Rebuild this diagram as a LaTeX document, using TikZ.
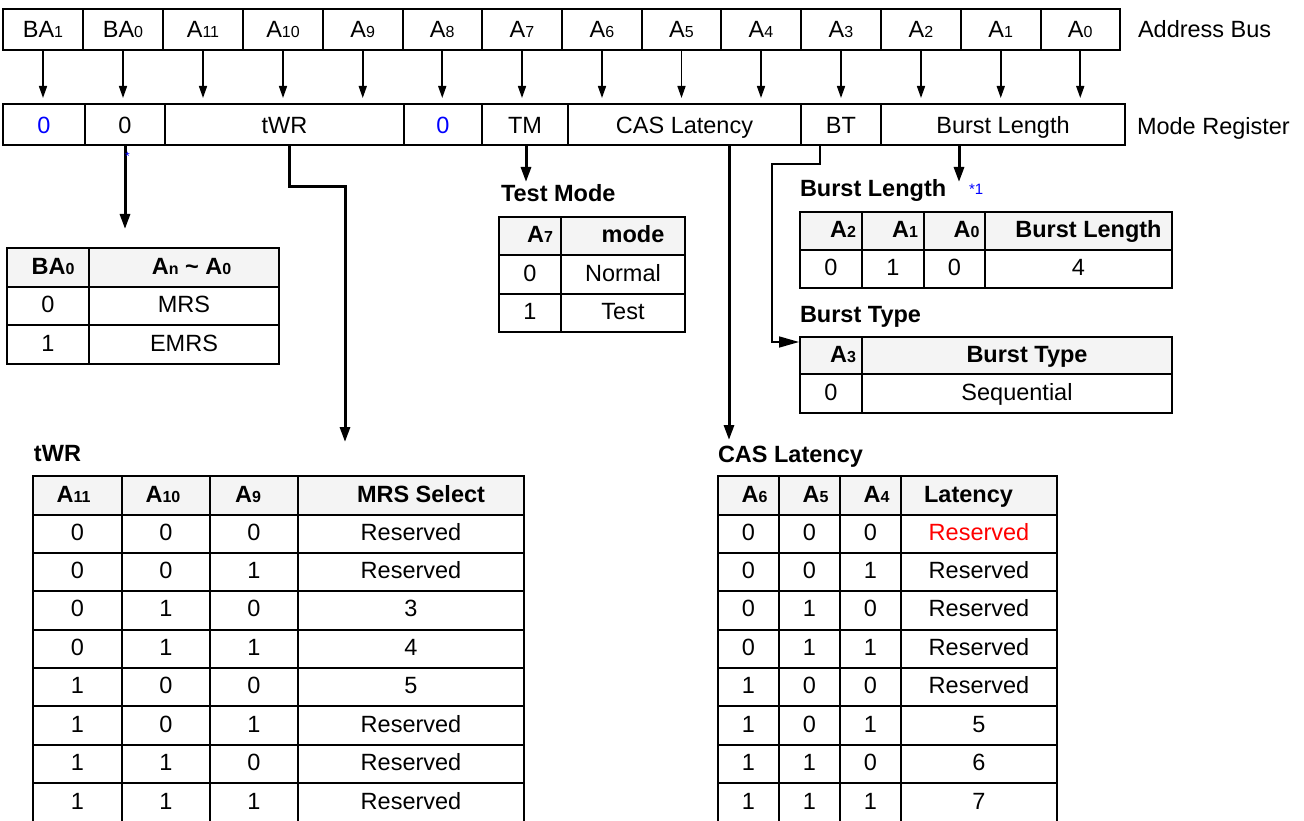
\documentclass[tikz,border=0pt]{standalone}
\usepackage{fontspec}
\setmainfont{Liberation Sans}
\usetikzlibrary{arrows.meta}
\definecolor{hdr}{HTML}{F4F4F4}
\definecolor{bblue}{RGB}{0,0,255}
\definecolor{rred}{RGB}{255,0,0}
\newcommand{\lowsub}[1]{{\fontsize{16}{16}\selectfont #1}}
\newcommand{\mkcell}[7][]{%
  \pgfmathsetmacro{\mkcx}{(#3+#5)/2}%
  \pgfmathsetmacro{\mkcy}{(#4+#6)/2}%
  \pgfmathsetmacro{\mkcw}{#5-#3}%
  \pgfmathsetmacro{\mkch}{#6-#4}%
  \node[cellbox,minimum width=\mkcw pt,minimum height=\mkch pt,#1] (#2) at (\mkcx,\mkcy) {#7};}
\tikzset{
  basetxt/.style={font=\fontsize{23.5}{28}\selectfont, inner sep=0pt, outer sep=0pt},
  cellbox/.style={basetxt, draw, line width=2pt, text height=17pt, text depth=4pt},
  hdrcell/.style={fill=hdr, text depth=3pt, font=\bfseries\fontsize{23.5}{28}\selectfont},
  buscell/.style={line width=2pt, text height=18pt, text depth=2pt},
  modecell/.style={line width=2pt, text height=19pt, text depth=0pt},
  lbltxt/.style={basetxt, anchor=base west},
  blbltxt/.style={lbltxt, font=\bfseries\fontsize{23.5}{28}\selectfont},
  busarrow/.style={line width=1.6pt, -{Triangle[length=12pt,width=8pt]}},
  conn/.style={line width=3pt, -{Triangle[length=15pt,width=10pt]}},
  thinconn/.style={line width=1.6pt, -{Triangle[length=20pt,width=11pt]}},
}
\begin{document}
\begin{tikzpicture}[x=1pt,y=-1pt]
\useasboundingbox (0,0) rectangle (1304,821);
\fill[white] (0,0) rectangle (1304,821);
\clip (0,0) rectangle (1304,821);

% ---------- Address bus ----------
\foreach \i/\xa/\xb/\t in {
  0/3/83/{BA\lowsub{1}}, 1/83/163/{BA\lowsub{0}}, 2/163/243/{A\lowsub{11}},
  3/243/323/{A\lowsub{10}}, 4/323/402.5/{A\lowsub{9}}, 5/402.5/482/{A\lowsub{8}},
  6/482/562/{A\lowsub{7}}, 7/562/642/{A\lowsub{6}}, 8/642/721/{A\lowsub{5}},
  9/721/801/{A\lowsub{4}}, 10/801/881/{A\lowsub{3}}, 11/881/961/{A\lowsub{2}},
  12/961/1040.5/{A\lowsub{1}}, 13/1040.5/1120/{A\lowsub{0}}}{
  \mkcell[buscell]{a\i}{\xa}{9}{\xb}{50}{\t}
}
\node[lbltxt] (labus) at (1138,38) {Address Bus};

% ---------- Mode register ----------
\mkcell[modecell]{m0}{3}{104}{85}{145}{\textcolor{bblue}{0}}
\mkcell[modecell]{mba0}{85}{104}{165}{145}{0}
\mkcell[modecell]{mtwr}{165}{104}{404}{145}{tWR}
\mkcell[modecell]{m8}{404}{104}{482}{145}{\textcolor{bblue}{0}}
\mkcell[modecell]{mtm}{482}{104}{568}{145}{TM}
\mkcell[modecell]{mcas}{568}{104}{801}{145}{CAS Latency}
\mkcell[modecell]{mbt}{801}{104}{881}{145}{BT}
\mkcell[modecell]{mbl}{881}{104}{1125}{145}{Burst Length}
\node[lbltxt] (lmreg) at (1137,135) {Mode Register};

% bus arrows
\coordinate (mtop) at (0,98);
\foreach \i in {0,...,13}{
  \draw[busarrow] (a\i.south) -- (a\i.south |- mtop);
}

% ---------- BA0 table ----------
\mkcell[hdrcell]{bah1}{7}{248}{89}{287}{\hspace*{10pt}BA\lowsub{0}}
\mkcell[hdrcell]{bah2}{89}{248}{279}{287}{\hspace*{15pt}A\lowsub{n} \textasciitilde{} A\lowsub{0}}
\mkcell{ba1a}{7}{287}{89}{325}{0}
\mkcell{ba1b}{89}{287}{279}{325}{MRS}
\mkcell{ba2a}{7}{325}{89}{364}{1}
\mkcell{ba2b}{89}{325}{279}{364}{EMRS}

% ---------- Test mode ----------
\node[blbltxt] (ltm) at (501,202) {Test Mode};
\mkcell[hdrcell]{tmh1}{499}{217}{561}{255}{\hspace*{20pt}A\lowsub{7}}
\mkcell[hdrcell]{tmh2}{561}{217}{685}{255}{\hspace*{20pt}mode}
\mkcell{tm1a}{499}{255}{561}{294}{0}
\mkcell{tm1b}{561}{255}{685}{294}{Normal}
\mkcell{tm2a}{499}{294}{561}{332}{1}
\mkcell{tm2b}{561}{294}{685}{332}{Test}

% ---------- Burst length ----------
\node[blbltxt] (lblen) at (800,197) {Burst Length};
\node[lbltxt, text=bblue, font=\fontsize{15}{15}\selectfont] (note1) at (969,195) {*1};
\mkcell[hdrcell]{blh1}{800}{212}{862}{250}{\hspace*{24pt}A\lowsub{2}}
\mkcell[hdrcell]{blh2}{862}{212}{924}{250}{\hspace*{24pt}A\lowsub{1}}
\mkcell[hdrcell]{blh3}{924}{212}{985}{250}{\hspace*{24pt}A\lowsub{0}}
\mkcell[hdrcell]{blh4}{985}{212}{1172}{250}{\hspace*{20pt}Burst Length}
\mkcell{bl1a}{800}{250}{862}{288}{0}
\mkcell{bl1b}{862}{250}{924}{288}{1}
\mkcell{bl1c}{924}{250}{985}{288}{0}
\mkcell{bl1d}{985}{250}{1172}{288}{4}

% ---------- Burst type ----------
\node[blbltxt] (lbtype) at (800,322) {Burst Type};
\mkcell[hdrcell]{bth1}{800}{337}{862}{374}{\hspace*{24pt}A\lowsub{3}}
\mkcell[hdrcell]{bth2}{862}{337}{1172}{374}{\hspace*{20pt}Burst Type}
\mkcell{bt1a}{800}{374}{862}{413}{0}
\mkcell{bt1b}{862}{374}{1172}{413}{Sequential}

% ---------- tWR table ----------
\node[blbltxt] (ltwr) at (34,461) {tWR};
\mkcell[hdrcell]{twh1}{33}{476}{122}{514.5}{A\lowsub{11}\hspace*{8pt}}
\mkcell[hdrcell]{twh2}{122}{476}{210}{514.5}{A\lowsub{10}\hspace*{6pt}}
\mkcell[hdrcell]{twh3}{210}{476}{298}{514.5}{A\lowsub{9}\hspace*{12pt}}
\mkcell[hdrcell]{twh4}{298}{476}{524}{514.5}{\hspace*{20pt}MRS Select}
\foreach \r/\ya/\yb/\p/\q/\s/\v in {
  1/514.5/553/0/0/0/Reserved,
  2/553/591.3/0/0/1/Reserved,
  3/591.3/629.6/0/1/0/3,
  4/629.6/668/0/1/1/4,
  5/668/706.3/1/0/0/5,
  6/706.3/744.7/1/0/1/Reserved,
  7/744.7/783/1/1/0/Reserved,
  8/783/823/1/1/1/Reserved}{
  \mkcell{tw\r a}{33}{\ya}{122}{\yb}{\p}
  \mkcell{tw\r b}{122}{\ya}{210}{\yb}{\q}
  \mkcell{tw\r c}{210}{\ya}{298}{\yb}{\s}
  \mkcell{tw\r d}{298}{\ya}{524}{\yb}{\v}
}

% ---------- CAS latency table ----------
\node[blbltxt] (lcas) at (718,462) {CAS Latency};
\mkcell[hdrcell]{cah1}{718}{476}{779}{514.5}{\hspace*{12pt}A\lowsub{6}}
\mkcell[hdrcell]{cah2}{779}{476}{840}{514.5}{\hspace*{12pt}A\lowsub{5}}
\mkcell[hdrcell]{cah3}{840}{476}{901}{514.5}{\hspace*{12pt}A\lowsub{4}}
\mkcell[hdrcell]{cah4}{901}{476}{1057}{514.5}{Latency\hspace*{21pt}}
\foreach \r/\ya/\yb/\p/\q/\s/\v in {
  1/514.5/553/0/0/0/{\color{rred}Reserved},
  2/553/591.3/0/0/1/Reserved,
  3/591.3/629.6/0/1/0/Reserved,
  4/629.6/668/0/1/1/Reserved,
  5/668/706.3/1/0/0/Reserved,
  6/706.3/744.7/1/0/1/5,
  7/744.7/783/1/1/0/6,
  8/783/823/1/1/1/7}{
  \mkcell{ca\r a}{718}{\ya}{779}{\yb}{\p}
  \mkcell{ca\r b}{779}{\ya}{840}{\yb}{\q}
  \mkcell{ca\r c}{840}{\ya}{901}{\yb}{\s}
  \mkcell{ca\r d}{901}{\ya}{1057}{\yb}{\v}
}

% ---------- connectors ----------
\coordinate (ba0tip) at (124,229);
\draw[conn] (mba0.south) -- (mba0.south |- ba0tip);
\node[basetxt, text=bblue, font=\fontsize{12}{12}\selectfont, anchor=base] (star) at (127.5,161) {*};
\coordinate (twrbend) at (289,187);
\coordinate (twrtip) at (345,442);
\draw[conn] (mtwr.south -| twrbend) -- (twrbend) -| (twrtip);
\coordinate (tmtip) at (526,182);
\draw[conn] (mtm.south -| tmtip) -- (tmtip);
\coordinate (castip) at (729,440);
\draw[conn] (mcas.south -| castip) -- (castip);
\coordinate (btbend) at (820,164);
\coordinate (btturn) at (772,342);
\coordinate (bttip) at (799,342);
\draw[thinconn] (mbt.south -| btbend) -- (btbend) -| (btturn) -- (bttip);
\coordinate (bltip) at (959,182);
\draw[conn] (mbl.south -| bltip) -- (bltip);
\end{tikzpicture}
\end{document}
